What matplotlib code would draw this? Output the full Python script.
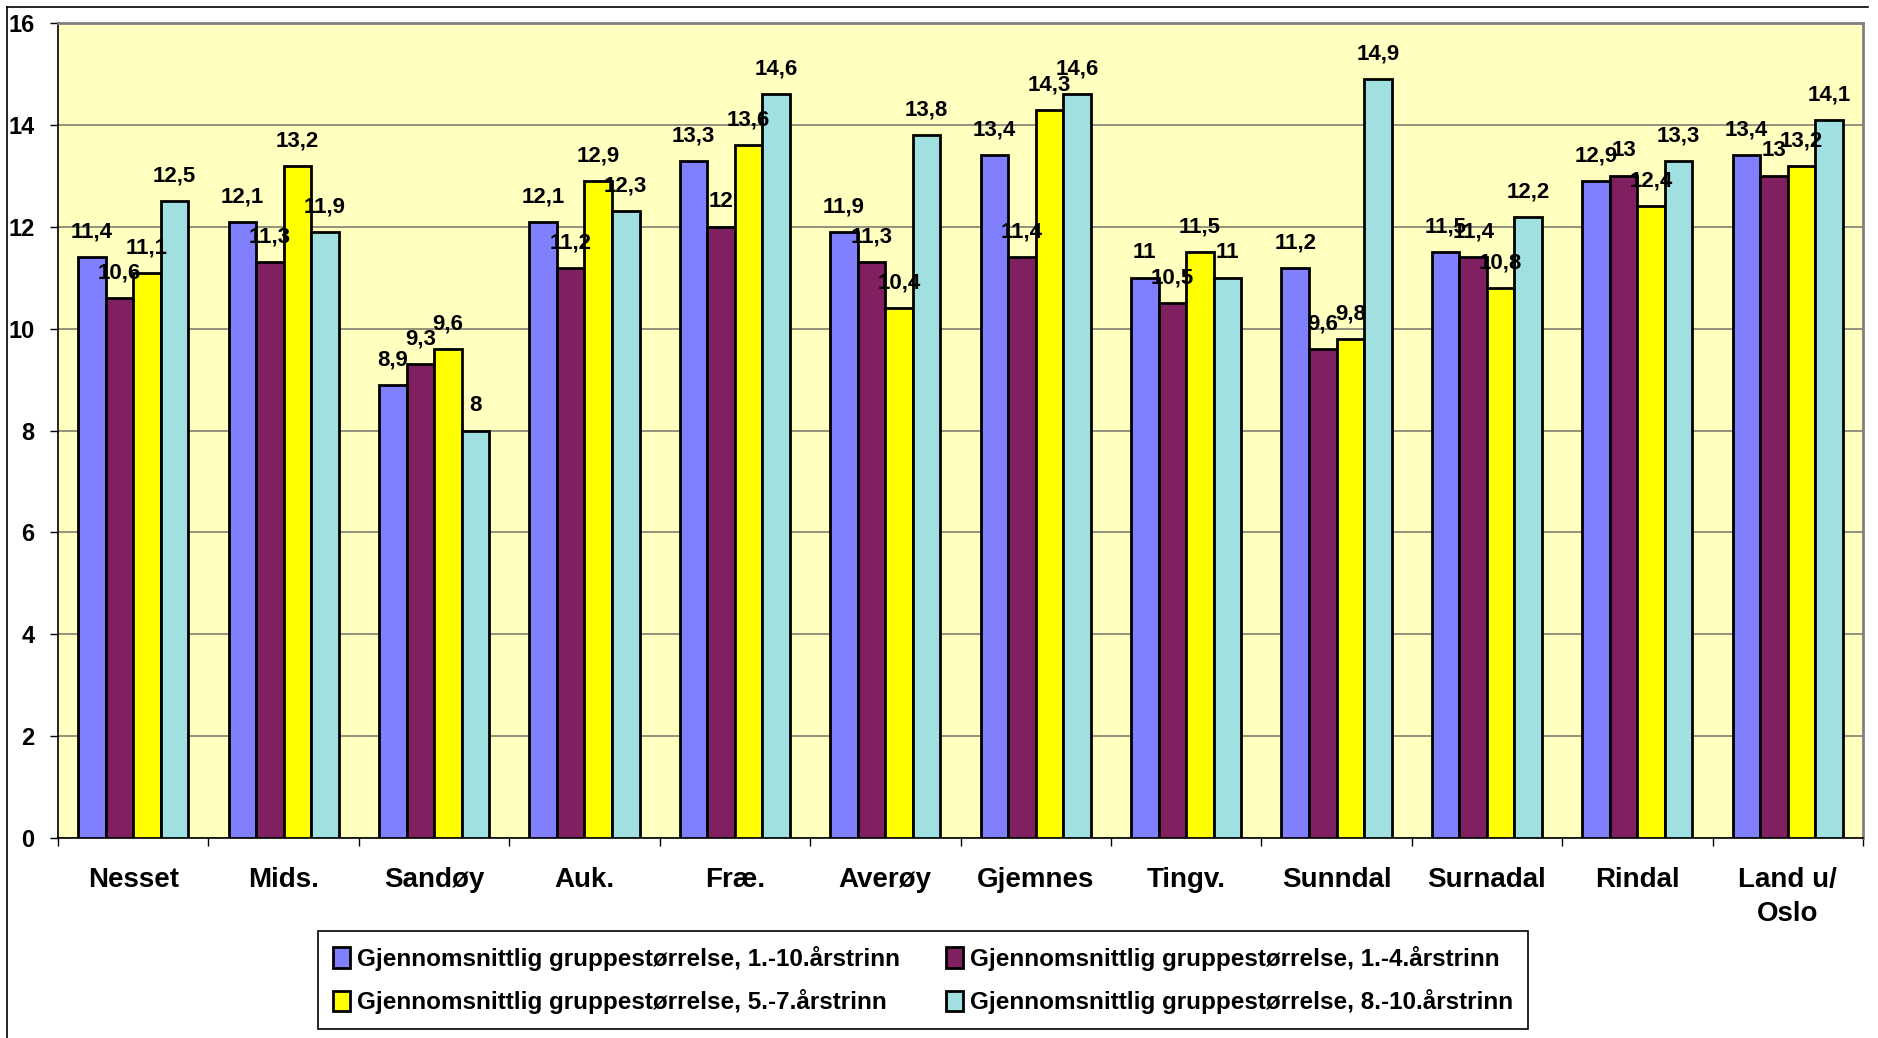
import matplotlib
matplotlib.use("Agg")
import matplotlib.pyplot as plt
import matplotlib.lines as mlines
import numpy as np

plt.rcParams["font.family"] = ["Liberation Sans", "DejaVu Sans"]
plt.rcParams["font.weight"] = "bold"

# ---- data ----
CATEGORIES = ["Nesset", "Mids.", "Sandøy", "Auk.", "Fræ.", "Averøy", "Gjemnes",
              "Tingv.", "Sunndal", "Surnadal", "Rindal", "Land u/\nOslo"]
SERIES_NAMES = [
    "Gjennomsnittlig gruppestørrelse, 1.-10.årstrinn",
    "Gjennomsnittlig gruppestørrelse, 1.-4.årstrinn",
    "Gjennomsnittlig gruppestørrelse, 5.-7.årstrinn",
    "Gjennomsnittlig gruppestørrelse, 8.-10.årstrinn",
]
TRINN_1_10 = [11.4, 12.1, 8.9, 12.1, 13.3, 11.9, 13.4, 11.0, 11.2, 11.5, 12.9, 13.4]
TRINN_1_4 = [10.6, 11.3, 9.3, 11.2, 12.0, 11.3, 11.4, 10.5, 9.6, 11.4, 13.0, 13.0]
TRINN_5_7 = [11.1, 13.2, 9.6, 12.9, 13.6, 10.4, 14.3, 11.5, 9.8, 10.8, 12.4, 13.2]
TRINN_8_10 = [12.5, 11.9, 8.0, 12.3, 14.6, 13.8, 14.6, 11.0, 14.9, 12.2, 13.3, 14.1]
COLORS = ["#8080FF", "#802060", "#FFFF00", "#A0E0E0"]

W, H = 1878, 1038
fig = plt.figure(figsize=(W / 100, H / 100), dpi=100)

# outer chart border (only top and left edges are visible in the crop)
fig.add_artist(mlines.Line2D([7 / W, 1868 / W], [1 - 7 / H, 1 - 7 / H],
                             transform=fig.transFigure, color="black", lw=1.2))
fig.add_artist(mlines.Line2D([7 / W, 7 / W], [0, 1 - 7 / H],
                             transform=fig.transFigure, color="black", lw=1.2))

ax = fig.add_axes([58 / W, 1 - 838 / H, (1863 - 58) / W, (838 - 23) / H])
ax.set_facecolor("#FFFFC0")

x = np.arange(len(CATEGORIES))
bw = 0.183
series = [TRINN_1_10, TRINN_1_4, TRINN_5_7, TRINN_8_10]
handles = []
for i, (vals, col, name) in enumerate(zip(series, COLORS, SERIES_NAMES)):
    pos = x + (i - 1.5) * bw
    bars = ax.bar(pos, vals, bw, color=col, edgecolor="black", lw=2, label=name, zorder=3)
    handles.append(bars)
    for px, v in zip(pos, vals):
        txt = f"{v:g}".replace(".", ",")
        ax.annotate(txt, (px, v), xytext=(0, 18), textcoords="offset points",
                    ha="center", va="center", fontsize=16, fontweight="bold", zorder=4)

ax.set_xlim(-0.5, len(CATEGORIES) - 0.5)
ax.set_ylim(0, 16)
ax.set_yticks(range(0, 17, 2))
ax.yaxis.grid(True, color="#808070", lw=1.2, zorder=0)
ax.tick_params(axis="y", direction="out", length=6, width=1, pad=11, labelsize=17)
for lab in ax.get_yticklabels():
    lab.set_fontweight("bold")

ax.set_xticks(x)
ax.set_xticklabels(CATEGORIES, fontsize=20, fontweight="bold", linespacing=1.4)
ax.tick_params(axis="x", length=0, pad=21)
ax.set_xticks(np.arange(-0.5, len(CATEGORIES)), minor=True)
ax.tick_params(axis="x", which="minor", direction="out", length=6, width=1)

for s in ["left", "bottom"]:
    ax.spines[s].set_color("black")
    ax.spines[s].set_linewidth(1.2)
for s in ["top", "right"]:
    ax.spines[s].set_color("#808080")
    ax.spines[s].set_linewidth(2)

order = [0, 2, 1, 3]
leg = fig.legend([handles[k] for k in order], [SERIES_NAMES[k] for k in order],
                 ncol=2, loc="center", bbox_to_anchor=((325 + 1521) / 2 / W, 1 - 980 / H),
                 frameon=True, fancybox=False, edgecolor="black", framealpha=1,
                 prop={"size": 17.5, "weight": "bold"},
                 handlelength=0.7, handleheight=0.9, handletextpad=0.3,
                 columnspacing=1.9, labelspacing=0.75, borderpad=0.6)
leg.get_frame().set_linewidth(1.2)

fig.savefig("out.png", dpi=100)
